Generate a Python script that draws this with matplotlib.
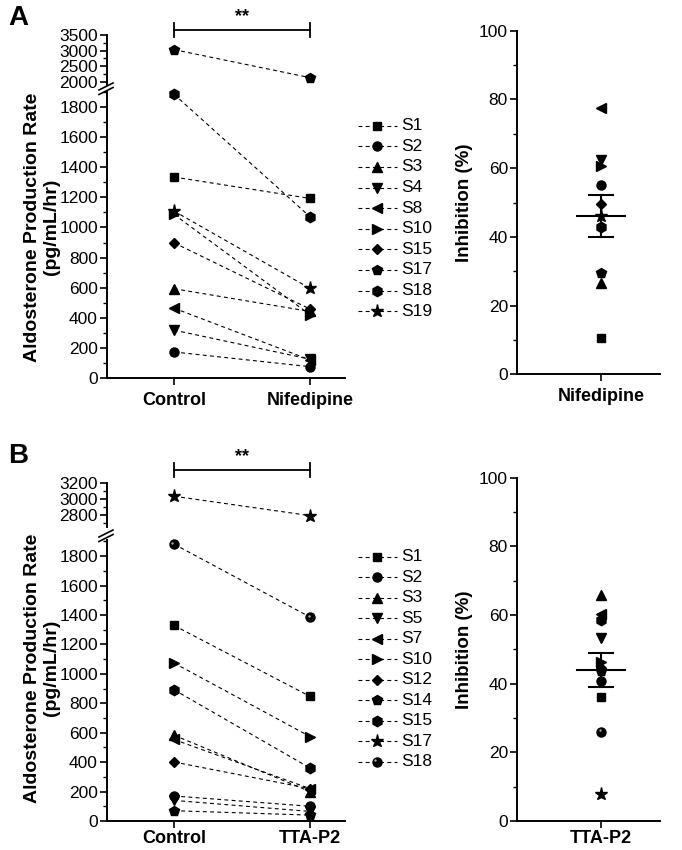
# Aldosterone production: paired control vs drug, plus inhibition scatter

import numpy as np
import matplotlib
matplotlib.use("Agg")
import matplotlib.pyplot as plt
from matplotlib.lines import Line2D
from matplotlib.ticker import MultipleLocator
import matplotlib.transforms as mtrans

plt.rcParams['font.family'] = ['Liberation Sans', 'DejaVu Sans']

# ---- data ----
A_labels = ['S1', 'S2', 'S3', 'S4', 'S8', 'S10', 'S15', 'S17', 'S18', 'S19']
A_markers = ['s', 'o', '^', 'v', '<', '>', 'D', 'p', 'h', '*']
A_control = [1335, 173, 593, 318, 464, 1087, 898, 3030, 1885, 1109]
A_drug = [1193, 75, 442, 125, 120, 420, 458, 2130, 1071, 595]
A_inhib = [10.6, 55.0, 26.5, 62.5, 77.5, 60.5, 49.5, 29.5, 43.0, 46.0]

B_labels = ['S1', 'S2', 'S3', 'S5', 'S7', 'S10', 'S12', 'S14', 'S15', 'S17', 'S18']
B_markers = ['s', 'o', '^', 'v', '<', '>', 'D', 'p', 'h', '*', 'sphere']
B_control = [1329, 170, 583, 140, 554, 1074, 401, 70, 892, 3035, 1882]
B_drug = [847, 100, 200, 65, 220, 574, 220, 40, 360, 2792, 1386]
B_inhib = [36.2, 40.7, 65.8, 53.3, 60.4, 46.2, 44.5, 43.8, 58.6, 7.8, 26.0]

W, H = 682, 850
fig = plt.figure(figsize=(W / 100, H / 100), dpi=100)


def rect(l, t, r, b):
    return [l / W, 1 - b / H, (r - l) / W, (b - t) / H]


def P(x, y):
    return (x / W, 1 - y / H)


msize = {'s': 6, 'o': 6.5, '^': 7, 'v': 7, '<': 7, '>': 7, 'D': 5.5,
         'p': 7.5, 'h': 7.5, '*': 9.5, 'sphere': 6.5}


def mark(ax, x, y, m, **kw):
    tr = ax.transData
    if m == 'sphere':
        ax.plot(x, y, 'o', color='black', ms=msize[m], transform=tr, **kw)
        off = mtrans.offset_copy(tr, fig=fig, x=-1.1, y=1.1, units='points')
        ax.plot(x, y, 'o', color='#b0b0b0', ms=1.7, mec='none', transform=off, **kw)
    else:
        ax.plot(x, y, m, color='black', ms=msize[m], mec='black', transform=tr, **kw)


def style_ax(ax):
    for s in ['top', 'right']:
        ax.spines[s].set_visible(False)
    for s in ['left', 'bottom']:
        ax.spines[s].set_linewidth(1.4)
    ax.tick_params(which='major', length=5, width=1.2, labelsize=12.5, pad=1.5)
    ax.tick_params(which='minor', length=3, width=1.0)


def paired_panel(lo_rect, hi_rect, lo_lim, hi_lim, hi_major, hi_minor,
                 control, drug, markers, drug_name, brk, bar_y, xpad):
    ax_lo = fig.add_axes(rect(*lo_rect))
    ax_hi = fig.add_axes(rect(*hi_rect))
    for ax, lim in ((ax_lo, lo_lim), (ax_hi, hi_lim)):
        style_ax(ax)
        ax.set_xlim(-0.4926, 1.257)
        for c, d, m in zip(control, drug, markers):
            if not (lim[0] <= c <= lim[1] and lim[0] <= d <= lim[1]):
                continue
            ax.plot([0, 1], [c, d], color='black', lw=0.8, ls=(0, (3.5, 3)))
            mark(ax, [0, 1], [c, d], m, clip_on=False, zorder=3)
    ax_lo.set_ylim(*lo_lim)
    ax_lo.yaxis.set_major_locator(MultipleLocator(200))
    ax_lo.yaxis.set_minor_locator(MultipleLocator(100))
    ax_lo.set_xticks([0, 1])
    ax_lo.set_xticklabels(['Control', drug_name], fontsize=13, fontweight='bold')
    ax_lo.tick_params(axis='x', pad=xpad)
    ax_hi.set_ylim(*hi_lim)
    ax_hi.yaxis.set_major_locator(MultipleLocator(hi_major))
    ax_hi.yaxis.set_minor_locator(MultipleLocator(hi_minor))
    ax_hi.spines['bottom'].set_visible(False)
    ax_hi.set_xticks([])
    # axis break slashes
    for dy in (0, 4.5):
        fig.add_artist(Line2D([99 / W, 113 / W],
                              [1 - (brk + 4 + dy) / H, 1 - (brk - 3 + dy) / H],
                              color='black', lw=1.2))
    # significance bracket
    x0, x1 = 174, 310
    fig.add_artist(Line2D([x0 / W, x1 / W], [1 - bar_y / H] * 2, color='black', lw=1.3))
    for xx in (x0, x1):
        fig.add_artist(Line2D([xx / W] * 2, [1 - (bar_y - 7) / H, 1 - (bar_y + 7) / H],
                              color='black', lw=1.3))
    fig.text((x0 + x1) / 2 / W, 1 - (bar_y - 5) / H, '**', ha='center', va='bottom',
             fontsize=13, fontweight='bold')
    return ax_lo, ax_hi


def legend(labels, markers, y0, step):
    lax = fig.add_axes([0, 0, 1, 1], facecolor='none')
    lax.set_axis_off()
    lax.set_xlim(0, W)
    lax.set_ylim(H, 0)
    for i, (lab, m) in enumerate(zip(labels, markers)):
        y = y0 + i * step
        lax.plot([358, 397], [y, y], color='black', lw=0.8, ls=(0, (3.5, 3)))
        mark(lax, [377], [y], m)
        lax.text(401, y, lab, va='center', ha='left', fontsize=12.5)


def inhib_panel(r, values, markers, drug_name, xpad):
    ax = fig.add_axes(rect(*r))
    style_ax(ax)
    ax.set_xlim(-1, 0.70)
    ax.set_ylim(0, 100)
    ax.yaxis.set_major_locator(MultipleLocator(20))
    ax.yaxis.set_minor_locator(MultipleLocator(10))
    ax.set_xticks([0])
    ax.set_xticklabels([drug_name], fontsize=13, fontweight='bold')
    ax.tick_params(axis='x', pad=xpad)
    for v, m in zip(values, markers):
        mark(ax, [0], [v], m, clip_on=False)
    vals = np.array(values)
    mean = vals.mean()
    sem = vals.std(ddof=1) / np.sqrt(len(vals))
    ax.plot([-0.285, 0.285], [mean, mean], color='black', lw=1.5)
    ax.plot([0, 0], [mean - sem, mean + sem], color='black', lw=1.5)
    for yy in (mean - sem, mean + sem):
        ax.plot([-0.143, 0.143], [yy, yy], color='black', lw=1.5)
    ax.set_ylabel('Inhibition (%)', fontsize=13.5, fontweight='bold', labelpad=4)
    return ax


ylab = 'Aldosterone Production Rate\n(pg/mL/hr)'

# ---- panel A ----
paired_panel((107, 92, 345, 378), (107, 35, 345, 84.8), (0, 1900), (1900, 3500), 500, 250,
             A_control, A_drug, A_markers, 'Nifedipine', 86, 30, 5)
legend(A_labels, A_markers, 125.7, 20.6)
inhib_panel((517, 30.7, 660, 374.3), A_inhib, A_markers, 'Nifedipine', 5)
fig.text(*P(42, 227), ylab, rotation=90, ha='center', va='center', fontsize=14,
         fontweight='bold', linespacing=1.15)
fig.text(*P(8, 18), 'A', fontsize=20, fontweight='bold', va='center')

# ---- panel B ----
paired_panel((107, 540, 345, 821), (107, 483, 345, 527), (0, 1910), (2650, 3200), 200, 100,
             B_control, B_drug, B_markers, 'TTA-P2', 533, 470, 1.5)
legend(B_labels, B_markers, 556.7, 20.5)
inhib_panel((517, 477.7, 660, 821), B_inhib, B_markers, 'TTA-P2', 1.5)
fig.text(*P(42, 668), ylab, rotation=90, ha='center', va='center', fontsize=14,
         fontweight='bold', linespacing=1.15)
fig.text(*P(8, 456), 'B', fontsize=20, fontweight='bold', va='center')

fig.savefig('out.png', dpi=100)
